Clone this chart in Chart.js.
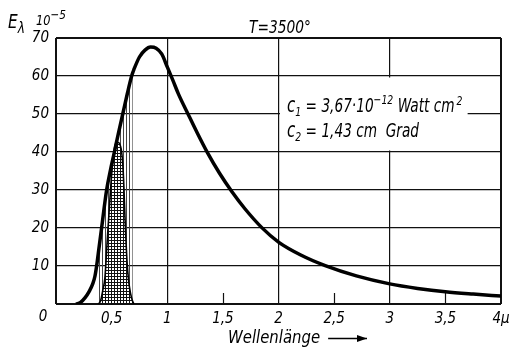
<!DOCTYPE html>
<html>
<head>
<meta charset="utf-8">
<script src="https://cdn.jsdelivr.net/npm/chart.js@4/dist/chart.umd.min.js"></script>
<style>
  html, body { margin: 0; padding: 0; background: #fff; }
  canvas { display: block; }
</style>
</head>
<body>
<canvas id="c" width="525" height="349"></canvas>
<script>
// Black-body radiation at T = 3500°, E_lambda in units of 10^-5
const wavelength = [0.18, 0.22, 0.26, 0.30, 0.33, 0.35, 0.37, 0.38, 0.41, 0.455, 0.49, 0.525, 0.56, 0.60, 0.64, 0.68, 0.69, 0.70, 0.75, 0.80, 0.85, 0.90, 0.95, 1.00, 1.05, 1.10, 1.19, 1.27, 1.36, 1.47, 1.58, 1.70, 1.85, 2.00, 2.20, 2.42, 2.70, 3.00, 3.25, 3.50, 3.75, 4.00];
const radiance   = [0,    0.4,  1.6,  3.4,  5.3,  7.3,  11,   13.3, 20,   30,    35.3, 40,    44.8, 50,   55.2, 60,   60.9, 61.7, 65.0, 66.8, 67.6, 67.3, 65.8, 62.4, 58.9, 55.3, 49.8, 45.0, 39.9, 34.4, 29.6, 25.0, 20.1, 16.3, 12.9, 10.1, 7.4,  5.3,  4.1,  3.2,  2.6,  2.1];

// Luminous part of the spectrum (cross-hatched area)
const visWavelength = [0.38, 0.40, 0.42, 0.44, 0.46, 0.48, 0.50, 0.52, 0.54, 0.56, 0.58, 0.59, 0.60, 0.61, 0.62, 0.63, 0.64, 0.65, 0.66, 0.68, 0.70];
const visRadiance   = [0,    0.8,  3.5,  7,    16.5, 25.5, 34,   40,   42.5, 42.5, 41.5, 40,   37,   31,   23,   16,   10.5, 7,    4.5,  1.5,  0];

// Visible band (vertically hatched under the curve)
const visibleBand = [0.38, 0.69];

const xTickLabels = ['0', '0,5', '1', '1,5', '2', '2,5', '3', '3,5', '4\u03bc'];
const yTickLabels = ['', '10', '20', '30', '40', '50', '60', '70'];

const FONT = "'DejaVu Sans Condensed', 'Liberation Sans Narrow', 'DejaVu Sans', sans-serif";

const canvas = document.getElementById('c');
const ctx = canvas.getContext('2d');

function makePattern(w, h, draw) {
  const p = document.createElement('canvas');
  p.width = w; p.height = h;
  draw(p.getContext('2d'));
  return ctx.createPattern(p, 'repeat');
}
const crossHatch = makePattern(3, 3, g => {
  g.fillStyle = '#fff'; g.fillRect(0, 0, 3, 3);
  g.fillStyle = '#111'; g.fillRect(0, 0, 3, 1); g.fillRect(0, 0, 1, 3);
});
const stripes = makePattern(3, 1, g => {
  g.fillStyle = '#444'; g.fillRect(0, 0, 1, 1);
});

const pts = (xs, ys) => xs.map((x, i) => ({ x, y: ys[i] }));
const bandPoints = pts(wavelength, radiance).filter(p => p.x >= visibleBand[0] && p.x <= visibleBand[1]);

// draws a sequence of [text, size, baselineShift] runs, narrowed by sx
function drawRuns(c, x, y, runs, sx = 1) {
  for (const [t, size, dy] of runs) {
    c.font = `italic ${size}px ${FONT}`;
    c.save();
    c.translate(x, y + dy);
    c.scale(sx, 1);
    c.fillText(t, 0, 0);
    c.restore();
    x += c.measureText(t).width * sx;
  }
  return x;
}

const decor = {
  id: 'decor',
  beforeDatasetsDraw(chart) {
    const c = chart.ctx, xs = chart.scales.x, ys = chart.scales.y, a = chart.chartArea;
    c.save();
    // short ticks at the half values
    c.strokeStyle = '#111'; c.lineWidth = 1.2;
    [0.5, 1.5, 2.5, 3.5].forEach(v => {
      const px = Math.round(xs.getPixelForValue(v)) + 0.5;
      c.beginPath(); c.moveTo(px, a.bottom); c.lineTo(px, a.bottom - 11); c.stroke();
    });
    // label box for the radiation constants
    const x0 = xs.getPixelForValue(2) + 1.5, x1 = xs.getPixelForValue(3.7);
    const y0 = ys.getPixelForValue(60) + 1.5, y1 = ys.getPixelForValue(40) - 1.5;
    c.fillStyle = '#fff';
    c.fillRect(x0, y0, x1 - x0, y1 - y0);
    c.fillStyle = '#000';
    c.textBaseline = 'alphabetic'; c.textAlign = 'left';
    drawRuns(c, x0 + 7, 112, [['c', 21, 0], ['1', 13, 4], [' = 3,67\u00b710', 19, 0], ['\u221212', 13, -8], [' Watt cm', 19, 0], ['\u20092', 13, -7]], 0.8);
    drawRuns(c, x0 + 7, 137, [['c', 21, 0], ['2', 13, 4], [' = 1,43 cm  Grad', 19, 0]], 0.8);
    c.restore();
  },
  afterDraw(chart) {
    const c = chart.ctx, xs = chart.scales.x;
    c.save();
    c.fillStyle = '#000';
    c.textBaseline = 'alphabetic'; c.textAlign = 'left';
    // axis quantity
    drawRuns(c, 8, 28, [['E', 20, 0], ['\u03bb', 16, 5]], 0.85);
    drawRuns(c, 36, 25, [['10', 14, 0], ['\u22125', 13, -6]], 0.9);
    // temperature
    drawRuns(c, 249, 33, [['T=3500\u00b0', 17, 0]], 0.9);
    // origin label
    c.font = `italic 15px ${FONT}`;
    c.textAlign = 'center';
    c.fillText(xTickLabels[0], xs.getPixelForValue(0) - 13, 321);
    // axis title with arrow
    c.textAlign = 'left';
    const end = drawRuns(c, 228, 343, [['Wellenl\u00e4nge', 18, 0]], 0.92);
    c.strokeStyle = '#000'; c.lineWidth = 1.3;
    const ay = 338.5, ax0 = end + 8, ax1 = 367;
    c.beginPath(); c.moveTo(ax0, ay); c.lineTo(ax1, ay); c.stroke();
    c.beginPath(); c.moveTo(ax1, ay); c.lineTo(ax1 - 10, ay - 3.5); c.lineTo(ax1 - 10, ay + 3.5); c.closePath(); c.fill();
    c.restore();
  }
};

new Chart(ctx, {
  type: 'line',
  data: {
    datasets: [
      {
        label: 'E\u03bb',
        data: pts(wavelength, radiance),
        borderColor: '#000', borderWidth: 3.5, pointRadius: 0,
        cubicInterpolationMode: 'monotone', fill: false, order: 1
      },
      {
        label: 'sichtbar',
        data: pts(visWavelength, visRadiance),
        borderColor: '#000', borderWidth: 1.6, pointRadius: 0,
        backgroundColor: crossHatch, fill: 'origin',
        cubicInterpolationMode: 'monotone', order: 2
      },
      {
        label: 'Band',
        data: bandPoints,
        borderColor: 'rgba(0,0,0,0)', borderWidth: 0, pointRadius: 0,
        backgroundColor: stripes, fill: 'origin',
        cubicInterpolationMode: 'monotone', order: 3
      }
    ]
  },
  options: {
    responsive: false,
    animation: false,
    events: [],
    layout: { padding: { top: 38, right: 24, left: 0, bottom: 0 } },
    plugins: { legend: { display: false }, tooltip: { enabled: false }, title: { display: false } },
    scales: {
      x: {
        type: 'linear', min: 0, max: 4,
        afterFit: s => { s.height = 45; },
        border: { display: false },
        grid: {
          drawTicks: false,
          color: c => Number.isInteger(c.tick.value) ? '#111' : 'rgba(0,0,0,0)',
          lineWidth: c => (c.tick.value === 0 || c.tick.value === 4) ? 2 : 1.2
        },
        ticks: {
          stepSize: 0.5, padding: 6, color: '#000', maxRotation: 0, autoSkip: false,
          font: { family: FONT, size: 15, style: 'italic' },
          callback: (v, i) => i === 0 ? '' : xTickLabels[i]
        }
      },
      y: {
        min: 0, max: 70,
        afterFit: s => { s.width = 56; },
        border: { display: false },
        grid: {
          drawTicks: false,
          color: '#111',
          lineWidth: c => (c.tick.value === 0 || c.tick.value === 70) ? 2 : 1.2
        },
        ticks: {
          stepSize: 10, padding: 7, color: '#000',
          font: { family: FONT, size: 15, style: 'italic' },
          callback: (v, i) => yTickLabels[i]
        }
      }
    }
  },
  plugins: [decor]
});
</script>
</body>
</html>
